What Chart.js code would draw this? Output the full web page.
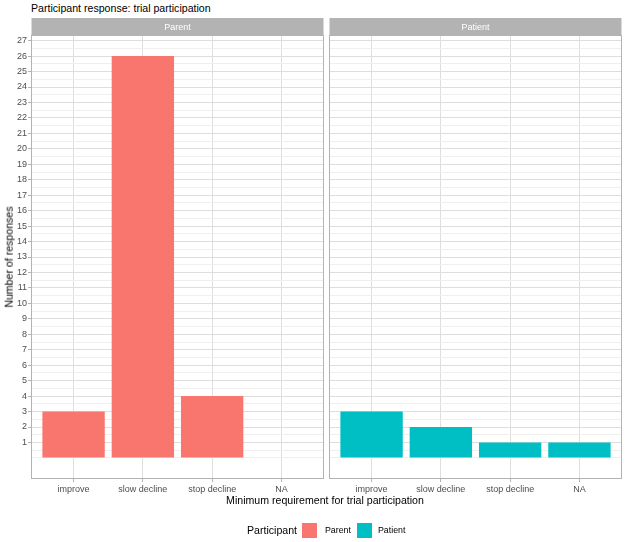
<!DOCTYPE html>
<html>
<head>
<meta charset="utf-8">
<script src="https://cdn.jsdelivr.net/npm/chart.js@4"></script>
<style>
  html, body { margin: 0; padding: 0; background: #ffffff; }
  #wrap { position: relative; width: 625px; height: 542px; background: #ffffff; font-family: "Liberation Sans", Arial, sans-serif; overflow: hidden; }
  canvas { position: absolute; }
  .txt { position: absolute; white-space: nowrap; color: #000; line-height: 1; }
  .box { position: absolute; width: 15px; height: 15px; }
</style>
</head>
<body>
<div id="wrap">
  <div class="txt" style="left:31px; top:3px; font-size:10.6px;">Participant response: trial participation</div>
  <canvas id="c1" width="324" height="500" style="left:0; top:0;"></canvas>
  <canvas id="c2" width="299" height="500" style="left:324px; top:0;"></canvas>
  <div class="txt" style="left:325px; top:495px; font-size:10.6px; transform:translateX(-50%);">Minimum requirement for trial participation</div>
  <div class="txt" style="left:9px; top:257px; font-size:10.6px; transform:translate(-50%,-50%) rotate(-90deg);">Number of responses</div>
  <div class="txt" style="left:247px; top:525px; font-size:10.6px;">Participant</div>
  <div class="box" style="left:302px; top:523px; background:#F8766D;"></div>
  <div class="txt" style="left:325px; top:526px; font-size:8.8px;">Parent</div>
  <div class="box" style="left:357px; top:523px; background:#00BFC4;"></div>
  <div class="txt" style="left:378px; top:526px; font-size:8.8px;">Patient</div>
</div>
<script>
const categories = ['improve', 'slow decline', 'stop decline', 'NA'];
const parentValues = [3, 26, 4, null];
const patientValues = [3, 2, 1, 1];
const panelNames = ['Parent', 'Patient'];
const seriesColors = ['#F8766D', '#00BFC4'];
const yTicks = [1, 2, 3, 4, 5, 6, 7, 8, 9, 10, 11, 12, 13, 14, 15, 16, 17, 18, 19, 20, 21, 22, 23, 24, 25, 26, 27];
const yMinorGrid = [0, 0.5, 1.5, 2.5, 3.5, 4.5, 5.5, 6.5, 7.5, 8.5, 9.5, 10.5, 11.5, 12.5, 13.5, 14.5, 15.5, 16.5, 17.5, 18.5, 19.5, 20.5, 21.5, 22.5, 23.5, 24.5, 25.5, 26.5];
const yLimits = [-1.3, 27.3];
const xLimits = [0.4, 4.6];

const FONT = '"Liberation Sans", Arial, sans-serif';
const STRIP = '#B3B3B3';
const GRID_MAJOR = '#DEDEDE';
const GRID_MINOR = '#EFEFEF';

function panelPlugin(name) {
  return {
    id: 'panel_' + name,
    afterDraw(chart) {
      const a = chart.chartArea;
      const ctx = chart.ctx;
      ctx.save();
      ctx.fillStyle = STRIP;
      ctx.fillRect(a.left - 0.5, 18, a.right - a.left + 1, 18);
      ctx.fillStyle = '#FFFFFF';
      ctx.font = '9px ' + FONT;
      ctx.textAlign = 'center';
      ctx.textBaseline = 'middle';
      ctx.fillText(name, (a.left + a.right) / 2, 27.5);
      ctx.strokeStyle = STRIP;
      ctx.lineWidth = 1;
      ctx.strokeRect(Math.round(a.left) - 0.5, Math.round(a.top) - 0.5, Math.round(a.right - a.left) + 1, Math.round(a.bottom - a.top) + 1);
      ctx.restore();
    }
  };
}

function makeChart(id, name, values, color, isFirst) {
  const data = values.map((v, i) => ({ x: i + 1, y: v }));
  const allY = yMinorGrid.concat(yTicks).sort((a, b) => a - b);
  return new Chart(document.getElementById(id), {
    type: 'bar',
    data: {
      datasets: [{
        label: name,
        data: data,
        backgroundColor: color,
        borderWidth: 0,
        categoryPercentage: 1,
        barPercentage: 0.9
      }]
    },
    options: {
      responsive: false,
      animation: false,
      events: [],
      layout: { padding: { top: 36, right: isFirst ? 1 : 2, left: 0, bottom: 0 } },
      plugins: { legend: { display: false }, tooltip: { enabled: false }, title: { display: false } },
      scales: {
        x: {
          type: 'linear',
          offset: false,
          min: xLimits[0],
          max: xLimits[1],
          afterBuildTicks: (s) => { s.ticks = categories.map((c, i) => ({ value: i + 1 })); },
          afterFit: (s) => { s.height = 22; },
          border: { display: false },
          grid: { offset: false, color: GRID_MAJOR, lineWidth: 1, drawTicks: true, tickLength: 4, tickColor: STRIP },
          ticks: {
            autoSkip: false, maxRotation: 0, padding: 2,
            color: '#4D4D4D', font: { family: FONT, size: 9 },
            callback: (v) => categories[Math.round(v) - 1] || ''
          }
        },
        y: {
          type: 'linear',
          min: yLimits[0],
          max: yLimits[1],
          afterBuildTicks: (s) => { s.ticks = allY.map(v => ({ value: v })); },
          afterFit: (s) => { s.width = isFirst ? 32 : 6; },
          border: { display: false },
          grid: {
            color: (c) => (yTicks.includes(c.tick.value) ? GRID_MAJOR : GRID_MINOR),
            lineWidth: 1,
            drawTicks: isFirst,
            tickLength: 4,
            tickColor: (c) => (yTicks.includes(c.tick.value) ? STRIP : 'rgba(0,0,0,0)')
          },
          ticks: {
            display: isFirst,
            autoSkip: false, padding: 1,
            color: '#4D4D4D', font: { family: FONT, size: 9 },
            callback: (v) => (yTicks.includes(v) ? String(v) : '')
          }
        }
      }
    },
    plugins: [panelPlugin(name)]
  });
}

makeChart('c1', panelNames[0], parentValues, seriesColors[0], true);
makeChart('c2', panelNames[1], patientValues, seriesColors[1], false);
</script>
</body>
</html>
